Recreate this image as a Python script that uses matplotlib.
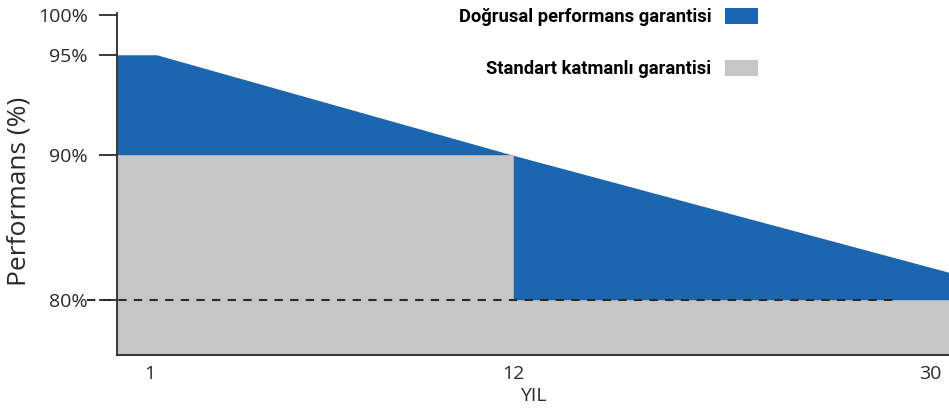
import numpy as np
import matplotlib
matplotlib.use('Agg')
import matplotlib.pyplot as plt
from matplotlib.patches import Patch

# data
years_linear = [0, 1.2, 12, 30.8]
perf_linear = [95, 95, 90, 81.9]
years_tiered = [0, 12, 12, 30.8]
perf_tiered = [90, 90, 80, 80]
baseline_years = [-0.9, 28.6]
baseline_perf = [80, 80]

yticks = [80, 90, 95, 100]
ytick_labels = ['80%', '90%', '95%', '100%']
xticks = [1, 12, 30]
xtick_labels = ['1', '12', '30']
legend_labels = ['Doğrusal performans garantisi', 'Standart katmanlı garantisi']

blue = '#1c66b0'
grey = '#c6c6c6'
ink = '#2a2a2a'

# the picture uses uneven spacing on both axes
xb = [-100, 0, 12, 100]
xp = [-3300, 0, 396, 396 + 88 * 23.2]
yb = [0, 80, 90, 95, 100, 200]
yp = [-80 * 14.4, 0, 144, 244, 284, 284 + 100 * 8]


def xf(v):
    return np.interp(v, xb, xp)


def xi(v):
    return np.interp(v, xp, xb)


def yf(v):
    return np.interp(v, yb, yp)


def yi(v):
    return np.interp(v, yp, yb)


plt.rcParams['font.family'] = ['Open Sans', 'DejaVu Sans']

fig = plt.figure(figsize=(9.49, 4.08), dpi=100)
ax = fig.add_axes([117 / 949, 53 / 408, 832 / 949, 342 / 408])
ax.set_xscale('function', functions=(xf, xi))
ax.set_yscale('function', functions=(yf, yi))

ax.fill_between(years_linear, perf_linear, 70, color=blue, lw=0)
ax.fill_between(years_tiered, perf_tiered, 70, color=grey, lw=0.6, edgecolor='#b5b5b5')
ax.plot(baseline_years, baseline_perf, color=ink, lw=1.5, dashes=(4, 3.5), clip_on=False)

ax.set_xlim(0, 30.8)
ax.set_ylim(76.18, 100.2)

ax.spines['top'].set_visible(False)
ax.spines['right'].set_visible(False)
ax.spines['left'].set_color(ink)
ax.spines['bottom'].set_color(ink)
ax.spines['left'].set_linewidth(1.3)
ax.spines['bottom'].set_linewidth(1.3)

ax.set_yticks(yticks)
ax.set_yticklabels(ytick_labels)
ax.set_xticks(xticks)
ax.set_xticklabels(xtick_labels)
ax.minorticks_off()
ax.tick_params(axis='y', length=13, width=1.3, color=ink, pad=8, labelsize=14, labelcolor=ink)
ax.tick_params(axis='x', length=0, pad=7, labelsize=14, labelcolor=ink)

ax.set_xlabel('YIL', fontsize=14, color=ink, labelpad=3)
ax.set_ylabel('Performans (%)', fontsize=19, color=ink)
ax.yaxis.set_label_coords(-0.103, 0.477)

handles = [Patch(facecolor=blue), Patch(facecolor=grey)]
fig.legend(handles, legend_labels, loc='upper right', bbox_to_anchor=(758 / 949, 1 - 8 / 408),
           markerfirst=False, frameon=False, borderpad=0, borderaxespad=0,
           handlelength=1.8, handleheight=0.95, handletextpad=0.75, labelspacing=1.85,
           prop={'family': 'Roboto', 'weight': 'bold', 'size': 13.2})

fig.savefig('out.png', dpi=100)
